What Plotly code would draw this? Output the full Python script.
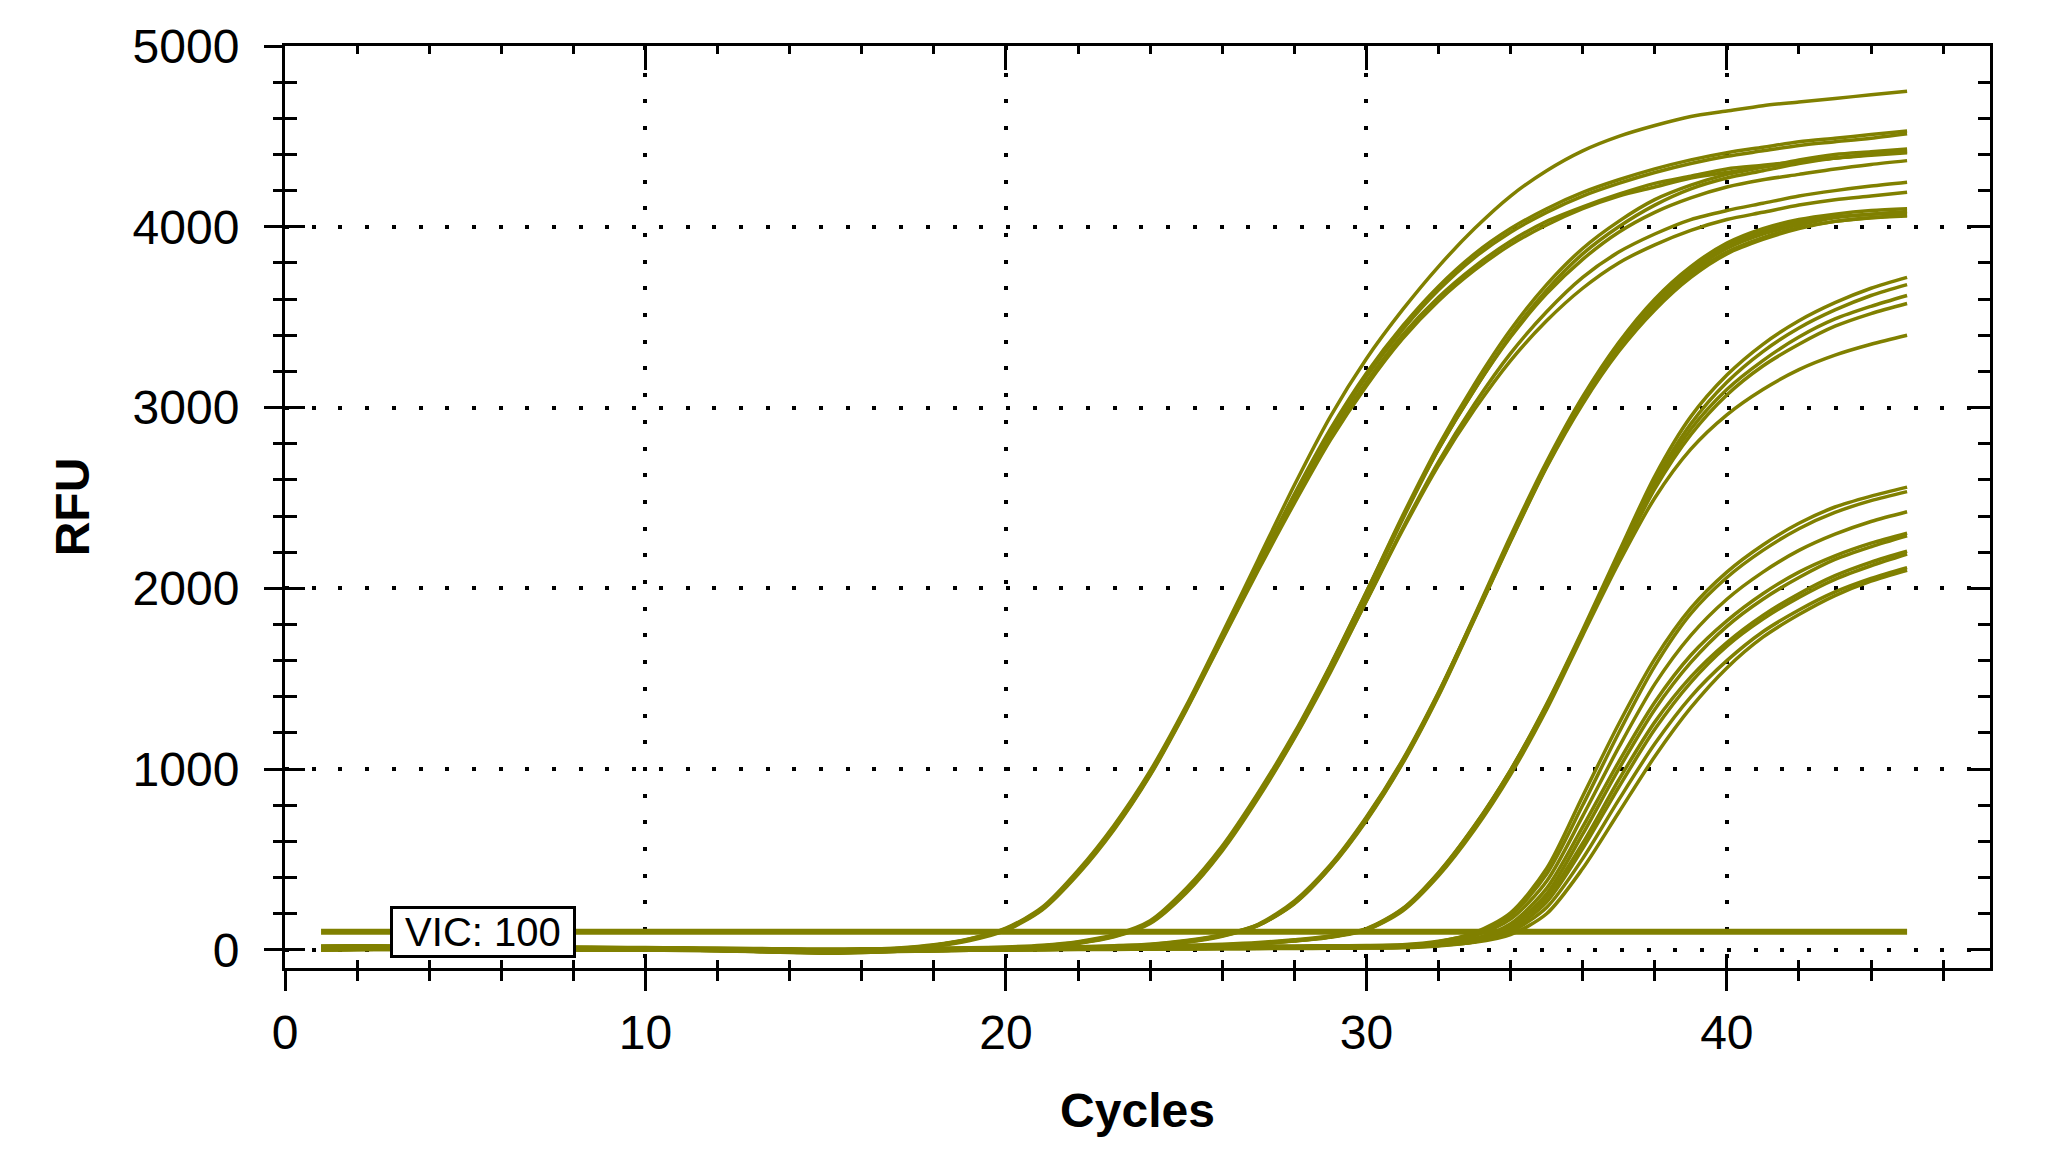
"""VIC amplification curves (RFU vs cycles) redrawn with Plotly."""
import plotly.graph_objects as go

CYCLES = list(range(1, 46))
THRESHOLD_RFU = 100
THRESHOLD_LABEL = "VIC: 100"

# group A (earliest)
VIC_A1 = [10, 12, 11, 10, 9, 8, 7, 6, 5, 4, 3, 2, 0, -2, -3,
          -1, 6, 25, 60, 120, 235, 440, 690, 990, 1350, 1750, 2160, 2570, 2950, 3270,
          3540, 3780, 3990, 4170, 4310, 4420, 4500, 4560, 4610, 4640, 4670, 4690, 4710, 4730, 4750]
VIC_A2 = [0, 3, 4, 4, 3, 3, 2, 2, 1, 0, -1, -3, -8, -12, -10,
          -6, 4, 22, 56, 112, 225, 425, 675, 975, 1335, 1730, 2130, 2520, 2880, 3190,
          3450, 3670, 3850, 3990, 4100, 4190, 4260, 4320, 4370, 4410, 4440, 4470, 4490, 4510, 4530]
VIC_A3 = [20, 22, 21, 19, 18, 16, 15, 13, 12, 10, 9, 7, 5, 2, 0,
          2, 10, 28, 62, 118, 230, 430, 680, 980, 1340, 1735, 2130, 2510, 2860, 3170,
          3430, 3650, 3830, 3970, 4080, 4170, 4240, 4300, 4350, 4390, 4420, 4450, 4470, 4490, 4515]
VIC_A4 = [5, 6, 6, 5, 5, 4, 4, 3, 2, 1, 0, -2, -5, -10, -16,
          -12, 2, 20, 52, 108, 220, 418, 665, 965, 1325, 1715, 2100, 2470, 2820, 3120,
          3380, 3590, 3760, 3900, 4010, 4100, 4170, 4220, 4270, 4300, 4330, 4360, 4380, 4400, 4420]
VIC_A5 = [12, 14, 13, 12, 11, 10, 9, 8, 7, 6, 4, 3, 1, -1, -2,
          0, 8, 26, 58, 115, 228, 426, 672, 970, 1330, 1720, 2110, 2490, 2840, 3140,
          3400, 3610, 3780, 3920, 4030, 4110, 4180, 4240, 4280, 4320, 4340, 4360, 4380, 4395, 4410]

# group B
VIC_B1 = [8, 9, 9, 8, 7, 7, 6, 5, 4, 3, 2, 0, -2, -4, -6,
          -5, -3, 0, 4, 10, 20, 40, 78, 155, 330, 565, 860, 1190, 1570, 1980,
          2400, 2790, 3130, 3430, 3680, 3880, 4030, 4150, 4230, 4290, 4330, 4370, 4400, 4415, 4430]
VIC_B2 = [2, 4, 5, 5, 4, 4, 3, 3, 2, 1, 0, -2, -6, -10, -9,
          -7, -4, -1, 3, 8, 18, 38, 75, 150, 320, 555, 850, 1180, 1555, 1960,
          2380, 2770, 3100, 3400, 3650, 3850, 4000, 4120, 4210, 4270, 4310, 4350, 4380, 4400, 4415]
VIC_B3 = [15, 17, 16, 15, 14, 13, 12, 11, 10, 8, 7, 5, 3, 1, 0,
          1, 3, 6, 10, 16, 26, 46, 84, 162, 340, 575, 870, 1200, 1575, 1980,
          2390, 2770, 3100, 3390, 3630, 3820, 3970, 4080, 4160, 4220, 4260, 4290, 4320, 4345, 4366]
VIC_B4 = [6, 7, 7, 6, 6, 5, 5, 4, 3, 2, 1, -1, -4, -8, -14,
          -11, -6, -2, 2, 8, 17, 36, 72, 146, 315, 548, 840, 1170, 1535, 1930,
          2330, 2700, 3020, 3300, 3530, 3720, 3860, 3960, 4040, 4090, 4130, 4170, 4200, 4225, 4246]
VIC_B5 = [10, 12, 11, 10, 9, 8, 7, 6, 5, 4, 3, 1, -1, -3, -4,
          -3, -1, 2, 6, 12, 22, 42, 80, 156, 335, 565, 850, 1175, 1545, 1930,
          2320, 2680, 2990, 3260, 3480, 3660, 3800, 3900, 3980, 4040, 4080, 4120, 4150, 4170, 4191]

# group C
VIC_C1 = [4, 5, 5, 4, 4, 3, 3, 2, 2, 1, 0, -2, -5, -9, -12,
          -10, -7, -4, -2, 0, 2, 6, 12, 22, 42, 75, 135, 260, 460, 725,
          1040, 1420, 1850, 2290, 2700, 3060, 3360, 3600, 3780, 3910, 3990, 4040, 4070, 4090, 4100]
VIC_C2 = [14, 16, 15, 14, 13, 12, 11, 10, 9, 7, 6, 4, 2, 0, -1,
          0, 2, 4, 6, 8, 11, 15, 21, 30, 50, 82, 140, 265, 465, 730,
          1045, 1420, 1840, 2270, 2680, 3030, 3330, 3570, 3750, 3880, 3960, 4010, 4050, 4070, 4085]
VIC_C3 = [0, 2, 3, 3, 2, 2, 1, 1, 0, -1, -2, -4, -9, -14, -12,
          -9, -6, -3, -1, 1, 4, 8, 14, 24, 44, 78, 136, 255, 455, 715,
          1030, 1405, 1830, 2260, 2670, 3020, 3310, 3540, 3720, 3850, 3930, 3990, 4030, 4050, 4065]
VIC_C4 = [8, 9, 9, 8, 8, 7, 6, 5, 4, 3, 2, 0, -2, -5, -7,
          -5, -2, 0, 2, 4, 7, 11, 17, 27, 47, 80, 137, 258, 458, 720,
          1035, 1410, 1835, 2265, 2675, 3030, 3320, 3555, 3735, 3860, 3940, 3995, 4030, 4050, 4060]
VIC_C5 = [18, 19, 18, 17, 16, 15, 14, 12, 11, 9, 8, 6, 4, 2, 1,
          2, 4, 6, 8, 10, 13, 17, 23, 32, 52, 84, 142, 270, 470, 735,
          1050, 1425, 1845, 2275, 2690, 3045, 3345, 3585, 3765, 3895, 3975, 4025, 4055, 4070, 4078]

# group D
VIC_D1 = [6, 7, 7, 6, 6, 5, 5, 4, 3, 2, 1, -1, -4, -8, -12,
          -10, -6, -3, -1, 1, 3, 5, 8, 12, 17, 24, 34, 50, 72, 115,
          225, 425, 685, 995, 1360, 1770, 2200, 2620, 2950, 3180, 3350, 3480, 3580, 3660, 3720]
VIC_D2 = [16, 18, 17, 16, 15, 14, 13, 12, 10, 9, 8, 6, 4, 2, 1,
          2, 4, 6, 8, 10, 12, 14, 17, 21, 26, 32, 41, 56, 77, 118,
          228, 428, 688, 995, 1355, 1760, 2180, 2590, 2910, 3140, 3310, 3440, 3540, 3620, 3680]
VIC_D3 = [1, 3, 4, 4, 3, 3, 2, 2, 1, 0, -1, -3, -7, -11, -9,
          -7, -4, -2, 0, 2, 4, 6, 9, 13, 18, 25, 35, 51, 73, 112,
          220, 418, 678, 985, 1345, 1750, 2170, 2570, 2880, 3100, 3260, 3390, 3490, 3560, 3620]
VIC_D4 = [10, 11, 11, 10, 9, 8, 7, 6, 5, 4, 3, 1, -1, -3, -5,
          -4, -2, 0, 2, 4, 6, 8, 11, 15, 20, 27, 37, 53, 75, 115,
          222, 420, 680, 988, 1348, 1752, 2160, 2550, 2850, 3070, 3230, 3350, 3450, 3520, 3576]
VIC_D5 = [4, 5, 5, 4, 4, 3, 3, 2, 1, 0, -1, -3, -6, -12, -18,
          -14, -8, -4, -1, 1, 3, 5, 8, 12, 17, 24, 34, 49, 70, 110,
          215, 410, 665, 970, 1330, 1740, 2140, 2500, 2770, 2960, 3100, 3210, 3290, 3350, 3400]

# group E (latest)
VIC_E1 = [8, 9, 9, 8, 8, 7, 6, 5, 4, 3, 2, 0, -2, -5, -8,
          -6, -3, -1, 1, 3, 5, 7, 8, 9, 10, 10, 11, 12, 13, 14,
          22, 45, 95, 205, 450, 850, 1250, 1610, 1890, 2090, 2240, 2360, 2450, 2510, 2560]
VIC_E2 = [18, 20, 19, 18, 17, 16, 15, 13, 12, 10, 9, 7, 5, 3, 2,
          3, 5, 7, 9, 11, 12, 13, 14, 15, 16, 17, 18, 19, 20, 22,
          28, 48, 90, 190, 420, 800, 1200, 1570, 1860, 2060, 2210, 2330, 2420, 2485, 2535]
VIC_E3 = [2, 4, 5, 5, 4, 4, 3, 3, 2, 1, 0, -2, -6, -10, -14,
          -11, -7, -4, -2, 0, 2, 4, 5, 6, 7, 8, 9, 10, 11, 13,
          18, 38, 78, 170, 380, 740, 1120, 1470, 1740, 1940, 2090, 2210, 2300, 2370, 2424]
VIC_E4 = [12, 13, 13, 12, 11, 10, 9, 8, 7, 6, 5, 3, 1, -1, -2,
          -1, 1, 3, 5, 7, 8, 9, 10, 11, 12, 13, 14, 15, 16, 17,
          20, 32, 62, 145, 340, 680, 1040, 1370, 1630, 1820, 1970, 2090, 2180, 2250, 2305]
VIC_E5 = [6, 7, 7, 6, 6, 5, 5, 4, 3, 2, 1, -1, -4, -8, -11,
          -9, -6, -3, -1, 1, 3, 4, 5, 6, 7, 8, 9, 10, 11, 12,
          15, 28, 55, 130, 310, 640, 1000, 1330, 1590, 1790, 1940, 2060, 2160, 2230, 2290]
VIC_E6 = [22, 23, 22, 21, 20, 19, 18, 16, 15, 13, 12, 10, 8, 6, 5,
          6, 8, 10, 12, 14, 15, 16, 17, 18, 19, 20, 21, 22, 23, 24,
          27, 38, 60, 125, 290, 590, 940, 1260, 1510, 1700, 1850, 1970, 2070, 2145, 2205]
VIC_E7 = [0, 2, 3, 3, 2, 2, 1, 0, -1, -2, -3, -5, -9, -13, -17,
          -14, -9, -5, -2, 0, 1, 2, 3, 4, 5, 6, 7, 8, 9, 10,
          12, 22, 45, 110, 265, 560, 900, 1220, 1480, 1680, 1830, 1950, 2050, 2125, 2190]
VIC_E8 = [9, 10, 10, 9, 9, 8, 7, 6, 5, 4, 3, 1, -1, -4, -6,
          -5, -3, -1, 1, 3, 4, 5, 6, 7, 8, 9, 10, 11, 12, 13,
          15, 24, 45, 100, 235, 505, 830, 1140, 1400, 1600, 1760, 1880, 1980, 2055, 2115]
VIC_E9 = [14, 15, 15, 14, 13, 12, 11, 10, 9, 8, 7, 5, 3, 1, 0,
          1, 3, 5, 7, 9, 10, 11, 12, 13, 14, 15, 16, 17, 18, 19,
          21, 28, 42, 85, 200, 450, 760, 1070, 1340, 1560, 1730, 1855, 1960, 2040, 2100]

CURVES = [
    VIC_A1, VIC_A2, VIC_A3, VIC_A4, VIC_A5,
    VIC_B1, VIC_B2, VIC_B3, VIC_B4, VIC_B5,
    VIC_C1, VIC_C2, VIC_C3, VIC_C4, VIC_C5,
    VIC_D1, VIC_D2, VIC_D3, VIC_D4, VIC_D5,
    VIC_E1, VIC_E2, VIC_E3, VIC_E4, VIC_E5, VIC_E6, VIC_E7, VIC_E8, VIC_E9,
]

VIC_COLOR = "#808000"
FONT = "Liberation Sans, Arial, sans-serif"
X_RANGE = [0, 47.3]
Y_RANGE = [-100, 5000]

fig = go.Figure()

fig.add_trace(go.Scatter(
    x=[CYCLES[0], CYCLES[-1]], y=[THRESHOLD_RFU, THRESHOLD_RFU],
    mode="lines", line=dict(color=VIC_COLOR, width=6),
    showlegend=False, hoverinfo="skip",
))

for rfu in CURVES:
    fig.add_trace(go.Scatter(
        x=CYCLES, y=rfu,
        mode="lines",
        line=dict(color=VIC_COLOR, width=3.5, shape="spline", smoothing=0.8),
        showlegend=False,
    ))

# empty traces so the extra tick axes get drawn
fig.add_trace(go.Scatter(x=[], y=[], xaxis="x2", yaxis="y2", showlegend=False))
fig.add_trace(go.Scatter(x=[], y=[], xaxis="x3", yaxis="y3", showlegend=False))

fig.add_annotation(
    x=2.9, y=THRESHOLD_RFU, xanchor="left", yanchor="middle",
    text="\u00a0" + THRESHOLD_LABEL + "\u00a0", showarrow=False,
    font=dict(family=FONT, size=40, color="black"),
    bgcolor="white", bordercolor="black", borderwidth=3, borderpad=1,
)

grid = dict(showgrid=True, gridcolor="black", gridwidth=4, griddash="4px,22.7px")
line = dict(showline=True, linecolor="black", linewidth=3)
tickfont = dict(family=FONT, size=48, color="black")

fig.update_layout(
    width=2050, height=1166,
    margin=dict(l=277, r=68, t=35, b=206),
    paper_bgcolor="white", plot_bgcolor="white",
    showlegend=False,
    xaxis=dict(
        range=X_RANGE, tickmode="linear", tick0=0, dtick=10,
        ticks="outside", ticklen=20, tickwidth=3, tickcolor="black",
        minor=dict(ticks="outside", ticklen=10, tickwidth=3, tickcolor="black",
                   tick0=0, dtick=2, showgrid=False),
        tickfont=tickfont, ticklabelstandoff=0, zeroline=False,
        title=dict(text="<b>Cycles</b>", font=dict(family=FONT, size=48, color="black"),
                   standoff=36),
        **grid, **line,
    ),
    yaxis=dict(
        range=Y_RANGE, tickmode="linear", tick0=0, dtick=1000,
        ticks="outside", ticklen=18, tickwidth=3, tickcolor="black",
        minor=dict(ticks="outside", ticklen=9, tickwidth=3, tickcolor="black",
                   tick0=0, dtick=200, showgrid=False),
        tickfont=tickfont, ticklabelstandoff=15, zeroline=False,
        title=dict(text="<b>RFU</b>", font=dict(family=FONT, size=48, color="black"),
                   standoff=28),
        **grid, **line,
    ),
    xaxis2=dict(
        range=X_RANGE, overlaying="x", side="top", anchor="y2",
        tickmode="linear", tick0=0, dtick=10,
        ticks="inside", ticklen=24, tickwidth=3, tickcolor="black",
        minor=dict(ticks="inside", ticklen=8, tickwidth=3, tickcolor="black",
                   tick0=0, dtick=2, showgrid=False),
        showticklabels=False, showgrid=False, zeroline=False, **line,
    ),
    yaxis2=dict(
        range=Y_RANGE, overlaying="y", side="right", anchor="x2",
        tickmode="linear", tick0=0, dtick=1000,
        ticks="inside", ticklen=20, tickwidth=3, tickcolor="black",
        minor=dict(ticks="inside", ticklen=12, tickwidth=3, tickcolor="black",
                   tick0=0, dtick=200, showgrid=False),
        showticklabels=False, showgrid=False, zeroline=False, **line,
    ),
    xaxis3=dict(
        range=X_RANGE, overlaying="x", side="bottom", anchor="y3",
        tickmode="linear", tick0=0, dtick=10,
        ticks="inside", ticklen=10, tickwidth=3, tickcolor="black",
        minor=dict(ticks="inside", ticklen=8, tickwidth=3, tickcolor="black",
                   tick0=0, dtick=2, showgrid=False),
        showticklabels=False, showgrid=False, zeroline=False, showline=False,
    ),
    yaxis3=dict(
        range=Y_RANGE, overlaying="y", side="left", anchor="x3",
        tickmode="linear", tick0=0, dtick=1000,
        ticks="inside", ticklen=20, tickwidth=3, tickcolor="black",
        minor=dict(ticks="inside", ticklen=12, tickwidth=3, tickcolor="black",
                   tick0=0, dtick=200, showgrid=False),
        showticklabels=False, showgrid=False, zeroline=False, showline=False,
    ),
)

fig.write_html("out.html", config={"displayModeBar": False})
